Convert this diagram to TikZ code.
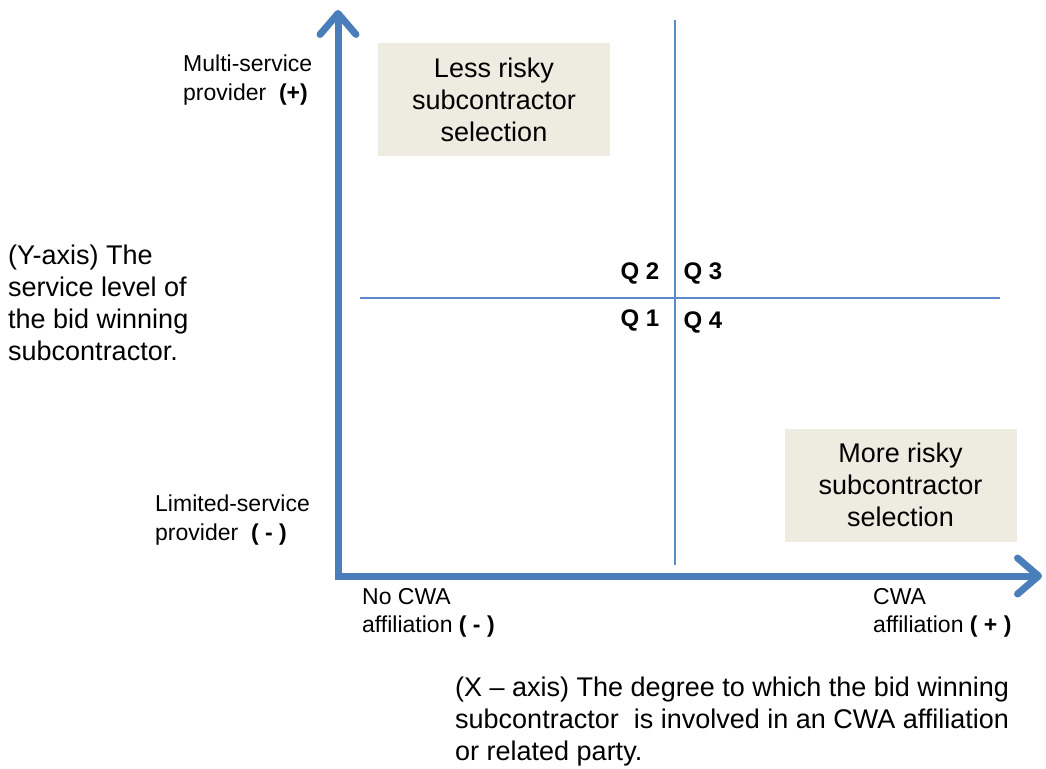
\documentclass[tikz,border=0pt]{standalone}
\usepackage{fontspec}
\setmainfont{Liberation Sans}
\usetikzlibrary{arrows.meta}
\definecolor{axisblue}{HTML}{4A7EBB}
\definecolor{lineblue}{HTML}{5B8BC9}
\definecolor{boxfill}{HTML}{EEECE1}
\tikzset{
  axis/.style={draw=axisblue, line width=7pt,
    -{Straight Barb[round, length=21pt, width=36pt]}},
  divider/.style={draw=lineblue, line width=1.1pt},
  zone/.style={fill=boxfill, draw=none, minimum width=232pt, minimum height=113pt,
    align=center, font=\fontsize{27}{32}\selectfont},
  bigtext/.style={align=left, inner sep=0pt, anchor=west, font=\fontsize{27}{32}\selectfont},
  smalltext/.style={align=left, inner sep=0pt, anchor=west, font=\fontsize{23}{28.5}\selectfont},
  quad/.style={inner sep=0pt, font=\fontsize{24}{28}\selectfont\bfseries}
}
\begin{document}
\begin{tikzpicture}[x=1pt, y=-1pt]
  \useasboundingbox (0,0) rectangle (1046,768);

  % quadrant dividers
  \coordinate (vtop) at (675,20);
  \coordinate (vbot) at (675,565);
  \coordinate (hleft) at (360,298);
  \coordinate (hright) at (1000,298);
  \draw[divider] (vtop) -- (vbot);
  \draw[divider] (hleft) -- (hright);

  % axes
  \coordinate (ybase) at (338,579.5);
  \coordinate (ytip) at (338,10);
  \coordinate (xbase) at (334.5,576);
  \coordinate (xtip) at (1042,576);
  \draw[axis] (ybase) -- (ytip);
  \draw[axis] (xbase) -- (xtip);

  % risk zones
  \node[zone] (less) at (494,99.5) {Less risky\\subcontractor\\selection};
  \node[zone] (more) at (900.5,485) {More risky\\subcontractor\\selection};

  % quadrant labels
  \node[quad] (q2) at (640,273) {Q 2};
  \node[quad] (q3) at (703,273) {Q 3};
  \node[quad] (q1) at (640,320) {Q 1};
  \node[quad] (q4) at (703,322) {Q 4};

  % axis end labels
  \node[smalltext] (multi) at (183,80) {Multi-service\\provider \ \textbf{(+)}};
  \node[smalltext] (limited) at (155,520) {Limited-service\\provider \ \textbf{( - )}};
  \node[smalltext] (nocwa) at (362,613) {No CWA\\affiliation \textbf{( - )}};
  \node[smalltext] (cwa) at (873,613) {CWA\\affiliation \textbf{( + )}};

  % axis descriptions
  \node[bigtext] (ydesc) at (8,302.5) {(Y-axis) The\\service level of\\the bid winning\\subcontractor.};
  \node[bigtext] (xdesc) at (455,722) {(X -- axis) The degree to which the bid winning\\subcontractor \ is involved in an CWA affiliation\\or related party.};
\end{tikzpicture}
\end{document}
